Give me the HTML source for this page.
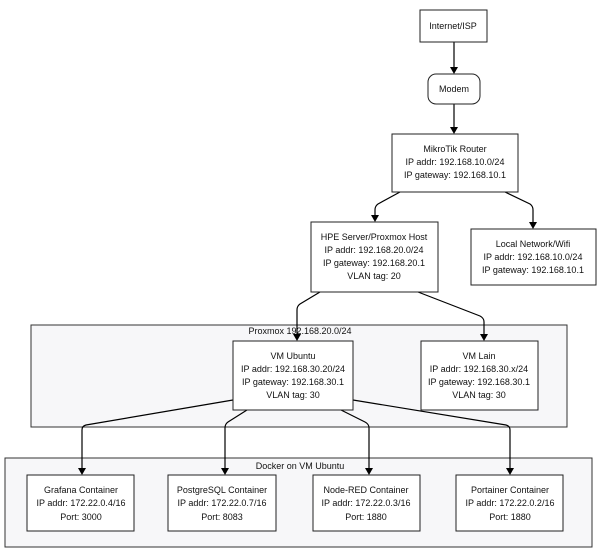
<!DOCTYPE html>
<html><head><style>
html,body{margin:0;padding:0;background:#fff;width:600px;height:555px;overflow:hidden}
svg text{font-family:"Liberation Sans",sans-serif;font-size:9px;fill:#111;text-anchor:middle}
</style></head><body>
<svg width="600" height="555" viewBox="0 0 600 555" xmlns="http://www.w3.org/2000/svg">
<defs>
<marker id="a" markerWidth="8" markerHeight="8" refX="4" refY="7" orient="auto" markerUnits="userSpaceOnUse">
<path d="M0,0 L8,0 L4,8 z" fill="#000" transform="rotate(-90 4 4) rotate(90 4 4)"/>
</marker>
</defs>
<g fill="none" stroke="#333" stroke-width="1">
<rect x="31" y="325" width="536" height="102" fill="#f7f7f9"/>
<rect x="5" y="458" width="587" height="89" fill="#f7f7f9"/>
</g>
<text x="300" y="334">Proxmox 192.168.20.0/24</text>
<text x="300" y="469">Docker on VM Ubuntu</text>
<g stroke="#000" stroke-width="1.2" fill="none">
<path d="M454,42 V68"/>
<path d="M454,104 V128"/>
<path d="M400,192 L378,204 Q375,206 375,210 V216"/>
<path d="M505,192 L530,204 Q533,206 533,210 V223"/>
<path d="M320,292 L300,304 Q297,306 297,310 V335"/>
<path d="M418,292 L480,316 Q484,318 484,322 V335"/>
<path d="M233,400 L86,425 Q82,426 82,430 V469"/>
<path d="M247,410 L228,422 Q225,424 225,428 V469"/>
<path d="M341,410 L365,422 Q369,424 369,428 V469"/>
<path d="M353,400 L506,425 Q510,426 510,430 V469"/>
</g>
<g fill="#000">
<path d="M450,67 h8 l-4,7z"/>
<path d="M450,127 h8 l-4,7z"/>
<path d="M371,215 h8 l-4,7z"/>
<path d="M529,222 h8 l-4,7z"/>
<path d="M293,334 h8 l-4,7z"/>
<path d="M480,334 h8 l-4,7z"/>
<path d="M78,468 h8 l-4,7z"/>
<path d="M221,468 h8 l-4,7z"/>
<path d="M365,468 h8 l-4,7z"/>
<path d="M506,468 h8 l-4,7z"/>
</g>
<g fill="#fff" stroke="#222" stroke-width="1">
<rect x="420" y="10" width="67" height="32"/>
<rect x="428" y="74" width="52" height="30" rx="8"/>
<rect x="392" y="134" width="126" height="58"/>
<rect x="311" y="222" width="127" height="70"/>
<rect x="471" y="229" width="125" height="56"/>
<rect x="233" y="341" width="120" height="69"/>
<rect x="421" y="341" width="117" height="69"/>
<rect x="27" y="475" width="107" height="56"/>
<rect x="168" y="475" width="108" height="56"/>
<rect x="313" y="475" width="107" height="56"/>
<rect x="456" y="475" width="107" height="56"/>
</g>
<text x="453" y="29">Internet/ISP</text>
<text x="454" y="92">Modem</text>
<text x="455" y="152">MikroTik Router</text>
<text x="455" y="165">IP addr: 192.168.10.0/24</text>
<text x="455" y="178">IP gateway: 192.168.10.1</text>
<text x="374" y="240">HPE Server/Proxmox Host</text>
<text x="374" y="253">IP addr: 192.168.20.0/24</text>
<text x="374" y="266">IP gateway: 192.168.20.1</text>
<text x="374" y="279">VLAN tag: 20</text>
<text x="533" y="247">Local Network/Wifi</text>
<text x="533" y="260">IP addr: 192.168.10.0/24</text>
<text x="533" y="273">IP gateway: 192.168.10.1</text>
<text x="293" y="359">VM Ubuntu</text>
<text x="293" y="372">IP addr: 192.168.30.20/24</text>
<text x="293" y="385">IP gateway: 192.168.30.1</text>
<text x="293" y="398">VLAN tag: 30</text>
<text x="479" y="359">VM Lain</text>
<text x="479" y="372">IP addr: 192.168.30.x/24</text>
<text x="479" y="385">IP gateway: 192.168.30.1</text>
<text x="479" y="398">VLAN tag: 30</text>
<text x="81" y="493">Grafana Container</text>
<text x="81" y="506">IP addr: 172.22.0.4/16</text>
<text x="81" y="520">Port: 3000</text>
<text x="222" y="493">PostgreSQL Container</text>
<text x="222" y="506">IP addr: 172.22.0.7/16</text>
<text x="222" y="520">Port: 8083</text>
<text x="366" y="493">Node-RED Container</text>
<text x="366" y="506">IP addr: 172.22.0.3/16</text>
<text x="366" y="520">Port: 1880</text>
<text x="510" y="493">Portainer Container</text>
<text x="510" y="506">IP addr: 172.22.0.2/16</text>
<text x="510" y="520">Port: 1880</text>
</svg>
</body></html>
